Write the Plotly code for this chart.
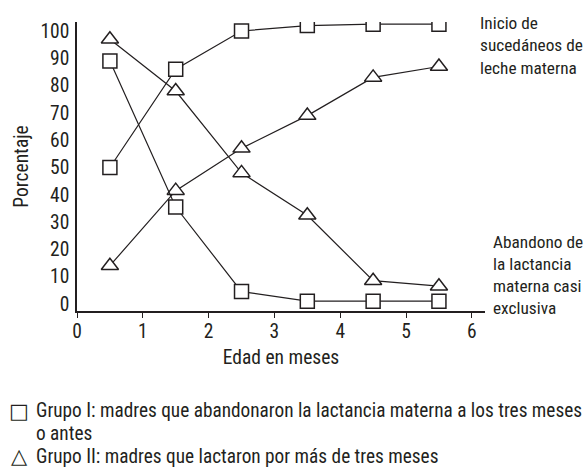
import plotly.graph_objects as go

months = [0.5, 1.5, 2.5, 3.5, 4.5, 5.5]
g1_sucedaneos = [50, 86, 100, 102, 102.5, 102.5]
g2_sucedaneos = [14, 41.5, 57, 69, 83, 87]
g1_abandono = [89, 35.5, 4.5, 1, 1, 1]
g2_abandono = [97, 78, 48, 32.5, 8.5, 6.5]

x_ticks = [0, 1, 2, 3, 4, 5, 6]
y_ticks = [0, 10, 20, 30, 40, 50, 60, 70, 80, 90, 100]

label_top = ["Inicio de", "sucedáneos de", "leche materna"]
label_bottom = ["Abandono de", "la lactancia", "materna casi", "exclusiva"]
legend_g1 = ["Grupo I: madres que abandonaron la lactancia materna a los tres meses", "o antes"]
legend_g2 = "Grupo II: madres que lactaron por más de tres meses"

FONT = "Roboto Condensed, Liberation Sans Narrow, sans-serif"
INK = "#231f20"

W, H = 588, 468
# plot area in page pixels: x 77..485, y 22..311
L, R, T, B = 77, 485, 22, 311
def px(xp):
    return (xp - L) / (R - L)
def py(yp):
    return (B - yp) / (B - T)

fig = go.Figure()

sq = dict(symbol="square", size=14, color="white", line=dict(color=INK, width=1.5))
tri = dict(symbol="triangle-up", size=15, color="white", line=dict(color=INK, width=1.5))
ln = dict(color=INK, width=1.2)

fig.add_trace(go.Scatter(x=months, y=g1_sucedaneos, mode="lines+markers", marker=sq, line=ln, showlegend=False))
fig.add_trace(go.Scatter(x=months, y=g2_sucedaneos, mode="lines+markers", marker=tri, line=ln, showlegend=False))
fig.add_trace(go.Scatter(x=months, y=g1_abandono, mode="lines+markers", marker=sq, line=ln, showlegend=False))
fig.add_trace(go.Scatter(x=months, y=g2_abandono, mode="lines+markers", marker=tri, line=ln, showlegend=False))

fig.update_layout(
    width=W, height=H,
    margin=dict(l=L, r=W - R, t=T, b=H - B),
    paper_bgcolor="white", plot_bgcolor="white",
    font=dict(family=FONT, size=19.5, color=INK),
    showlegend=False,
    xaxis=dict(range=[0, 6.2], tickvals=x_ticks, showgrid=False, zeroline=False,
               showline=True, linecolor=INK, linewidth=1.5, automargin=False,
               ticks="outside", ticklen=5, tickcolor=INK, tickwidth=1.2,
               ticklabelstandoff=-3, tickfont=dict(size=19.5),
               title=dict(text="Edad en meses", standoff=8, font=dict(size=19.5))),
    yaxis=dict(range=[-2.6, 103.3], tickvals=y_ticks, showgrid=False, zeroline=False,
               showline=True, linecolor=INK, linewidth=1.5, ticks="", automargin=False,
               ticklabelstandoff=2, tickfont=dict(size=19.5),
               title=dict(text="Porcentaje", standoff=7, font=dict(size=19.5))),
)

def text_at(x_page, y_page, s, size=18, anchor="left", family=None):
    f = dict(size=size)
    if family:
        f["family"] = family
    fig.add_annotation(x=px(x_page), xref="paper", xanchor=anchor,
                       y=py(y_page), yref="paper", yanchor="middle",
                       showarrow=False, text=s, font=f, borderpad=0)

for s, yc in zip(label_top, [22.5, 45, 67.5]):
    text_at(479, yc, s, size=17.3)
for s, yc in zip(label_bottom, [242, 264, 286, 308]):
    text_at(492, yc, s, size=17.3)

text_at(35, 410, legend_g1[0], size=19.3)
text_at(35, 433, legend_g1[1], size=19.3)
text_at(35, 456, legend_g2, size=19.3)
text_at(19, 410.5, "□", size=21, anchor="center", family="DejaVu Sans")
text_at(19, 456, "△", size=21, anchor="center", family="DejaVu Sans")

fig.write_html("out.html", config={"displayModeBar": False},
               post_script="document.body.style.margin='0';document.body.style.overflow='hidden';")
